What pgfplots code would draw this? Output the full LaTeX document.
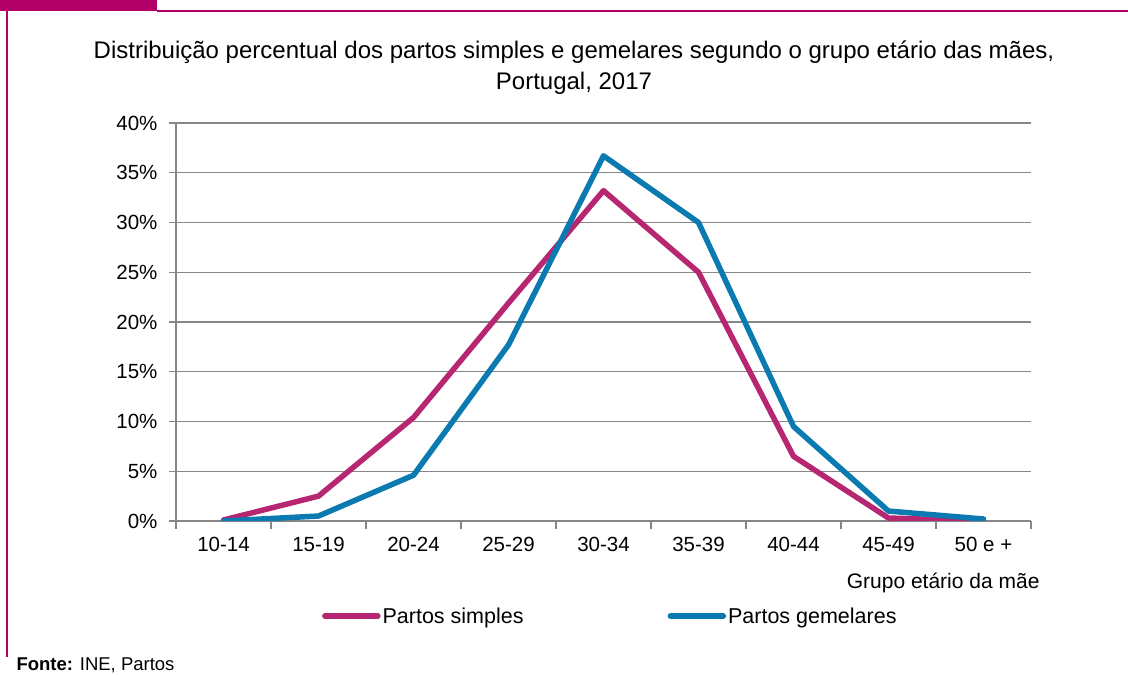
\documentclass[border=0pt]{standalone}
\usepackage{pgfplots}
\pgfplotsset{compat=1.18}
\usepackage{fontspec}
\setmainfont{Liberation Sans}
\definecolor{framec}{RGB}{178,0,104}
\definecolor{simp}{RGB}{183,38,112}
\definecolor{gem}{RGB}{11,122,176}
\definecolor{gridc}{RGB}{134,134,134}
\begin{document}
\begin{tikzpicture}[x=1pt,y=1pt]
\useasboundingbox (0,0) rectangle (1128,675);
\fill[framec] (0,664) rectangle (157,675);
\draw[framec,line width=1.3pt] (157,664) -- (1128,664);
\draw[framec,line width=1.3pt] (7,675) -- (7,18);
\node[font=\fontsize{24}{31}\selectfont, align=center] at (574,607.5) {Distribuição percentual dos partos simples e gemelares segundo o grupo etário das mães,\\Portugal, 2017};
\begin{axis}[
  at={(176pt,154pt)}, anchor=south west,
  scale only axis, width=855pt, height=398pt,
  xmin=-0.5, xmax=8.5, ymin=0, ymax=40,
  axis lines=left, axis line style={-, gridc, line width=1.3pt},
  ytick={0,5,...,40},
  yticklabel={\pgfmathprintnumber{\tick}\%},
  /pgf/number format/assume math mode=true,
  xtick={0,...,8},
  xticklabels={10-14,15-19,20-24,25-29,30-34,35-39,40-44,45-49,50 e +},
  minor xtick={-0.5,0.5,...,8.5},
  major x tick style={draw=none},
  minor x tick style={gridc, line width=1.3pt},
  major y tick style={gridc, line width=1.3pt},
  tick align=outside, major tick length=7pt, minor tick length=8pt,
  ymajorgrids, major grid style={gridc, line width=1.3pt},
  ticklabel style={font=\fontsize{20.5}{24}\selectfont},
  xticklabel style={yshift=-6pt},
  yticklabel style={xshift=-8pt},
  legend columns=2,
  legend style={at={(0.508,-0.239)}, anchor=center, draw=none, fill=none,
    font=\fontsize{21.5}{24}\selectfont,
    /tikz/every even column/.append style={column sep=142pt},
    inner sep=0pt},
  legend image code/.code={\draw[#1, line cap=round] (0pt,0pt) -- (53pt,0pt);},
  every axis plot/.append style={line width=5.5pt, line join=round, line cap=round},
]
\addplot[simp] coordinates {(0,0.1) (1,2.5) (2,10.4) (3,21.9) (4,33.2) (5,25.0) (6,6.5) (7,0.3) (8,0.0)};
\addlegendentry{Partos simples}
\addplot[gem] coordinates {(0,0.0) (1,0.5) (2,4.6) (3,17.7) (4,36.7) (5,30.0) (6,9.5) (7,1.0) (8,0.2)};
\addlegendentry{Partos gemelares}
\end{axis}
\node[anchor=east, font=\fontsize{21}{24}\selectfont] at (1043,92) {Grupo etário da mãe};
\node[anchor=west, font=\fontsize{18.5}{20}\selectfont] at (13,10) {\textbf{Fonte:} INE, Partos};
\end{tikzpicture}
\end{document}
